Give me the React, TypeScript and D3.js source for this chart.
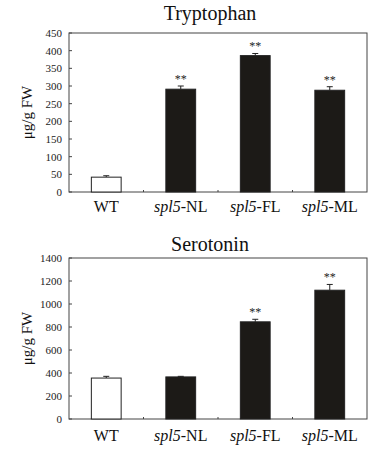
import React from "react";
import * as d3 from "d3";

const categories = ["WT", "spl5-NL", "spl5-FL", "spl5-ML"];
const tryptophanValues = [42, 291, 386, 288];
const tryptophanErrors = [4, 9, 6, 10];
const tryptophanSignif = ["", "**", "**", "**"];
const tryptophanTicks = [0, 50, 100, 150, 200, 250, 300, 350, 400, 450];
const serotoninValues = [356, 366, 845, 1120];
const serotoninErrors = [15, 5, 22, 50];
const serotoninSignif = ["", "", "**", "**"];
const serotoninTicks = [0, 200, 400, 600, 800, 1000, 1200, 1400];

const FONT = "'Liberation Serif', 'Times New Roman', Times, serif";

type PanelProps = {
  title: string;
  values: number[];
  errors: number[];
  signif: string[];
  ticks: number[];
  top: number;
  bottom: number;
  titleY: number;
  labelY: number;
};

function Panel({ title, values, errors, signif, ticks, top, bottom, titleY, labelY }: PanelProps) {
  const left = 69;
  const right = 367;
  const x = d3.scaleBand<string>().domain(categories).range([left, right]).paddingInner(0.6).paddingOuter(0.3);
  const y = d3.scaleLinear().domain([0, ticks[ticks.length - 1]]).range([bottom, top]);
  const step = x.step();
  const boundaries = categories.slice(1).map((c) => (x(c) as number) - (step - x.bandwidth()) / 2);
  const axisColor = "#444";
  return (
    <g>
      <text x={(left + right) / 2 - 8} y={titleY} textAnchor="middle" fontFamily={FONT} fontSize={20} fill="#111">
        {title}
      </text>
      <rect x={left} y={top} width={right - left} height={bottom - top} fill="none" stroke={axisColor} strokeWidth={1} />
      {ticks.map((t) => (
        <g key={t}>
          <line x1={left} x2={left + 3} y1={y(t)} y2={y(t)} stroke={axisColor} />
          <text x={left - 7} y={y(t)} dy="0.35em" textAnchor="end" fontFamily={FONT} fontSize={11} fill="#222">
            {t}
          </text>
        </g>
      ))}
      {boundaries.map((b, i) => (
        <line key={i} x1={b} x2={b} y1={bottom} y2={bottom - 2} stroke={axisColor} />
      ))}
      {values.map((v, i) => {
        const c = categories[i];
        const bx = x(c) as number;
        const cx = bx + x.bandwidth() / 2;
        const eTop = y(v + errors[i]);
        return (
          <g key={c}>
            <line x1={cx} x2={cx} y1={y(v)} y2={eTop} stroke="#222" strokeWidth={1} />
            <line x1={cx - 3} x2={cx + 3} y1={eTop} y2={eTop} stroke="#222" strokeWidth={1} />
            <rect
              x={bx}
              y={y(v)}
              width={x.bandwidth()}
              height={bottom - y(v)}
              fill={i === 0 ? "#fff" : "#1c1a17"}
              stroke="#222"
              strokeWidth={1}
            />
            {signif[i] && (
              <text x={cx} y={eTop - 3} textAnchor="middle" fontFamily={FONT} fontSize={12} fill="#222">
                {signif[i]}
              </text>
            )}
            <text x={cx} y={labelY} textAnchor="middle" fontFamily={FONT} fontSize={16} fill="#111">
              {c.startsWith("spl5") ? (
                <>
                  <tspan fontStyle="italic">spl5</tspan>
                  {c.slice(4)}
                </>
              ) : (
                c
              )}
            </text>
          </g>
        );
      })}
      <text
        transform={`translate(32, ${(top + bottom) / 2}) rotate(-90)`}
        textAnchor="middle"
        fontFamily={FONT}
        fontSize={15}
        fill="#111"
      >
        μg/g FW
      </text>
    </g>
  );
}

export default function App() {
  return (
    <svg width={380} height={451} style={{ position: "absolute", left: 0, top: 0, background: "#fff" }}>
      <rect width={380} height={451} fill="#fff" />
      <Panel
        title="Tryptophan"
        values={tryptophanValues}
        errors={tryptophanErrors}
        signif={tryptophanSignif}
        ticks={tryptophanTicks}
        top={33}
        bottom={192}
        titleY={20}
        labelY={212}
      />
      <Panel
        title="Serotonin"
        values={serotoninValues}
        errors={serotoninErrors}
        signif={serotoninSignif}
        ticks={serotoninTicks}
        top={258}
        bottom={419}
        titleY={251}
        labelY={441}
      />
    </svg>
  );
}
